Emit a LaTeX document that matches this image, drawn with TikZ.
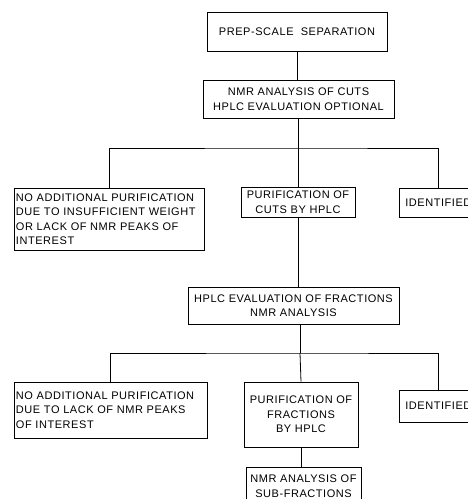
\documentclass[tikz,border=0pt]{standalone}
\usepackage{fontspec}
\setmainfont{Liberation Sans}[LetterSpace=5]
\usetikzlibrary{positioning}

\begin{document}
\begin{tikzpicture}[x=1pt, y=-1pt, line width=0.8pt,
        font=\fontsize{11}{14.5}\selectfont,
        b/.style={rectangle, draw, align=center, inner sep=2pt},
        bl/.style={rectangle, draw, align=left, inner xsep=2pt, inner ysep=2pt}]
        \useasboundingbox (0,0) rectangle (468,499);
        % top of the scheme
        \node[b, minimum width=180, minimum height=39] (prep) at (297,31.5) {PREP-SCALE \ SEPARATION};
        \node[b, minimum width=191, minimum height=38] (nmr) at (298.5,99) {NMR ANALYSIS OF CUTS\\HPLC EVALUATION OPTIONAL};
        \coordinate (bar1) at (298,148);
        % first branching
        \node[bl, text width=186, minimum height=62] (none1) at (109,219) {NO ADDITIONAL PURIFICATION\\DUE TO INSUFFICIENT WEIGHT\\OR LACK OF NMR PEAKS OF\\INTEREST};
        \node[b, minimum width=114, minimum height=30] (pur1) at (298,202) {PURIFICATION OF\\CUTS BY HPLC};
        \node[b, anchor=west, minimum width=78, minimum height=29] (id1) at (399,202.5) {IDENTIFIED};
        \node[b, minimum width=211, minimum height=37] (hplc) at (293.5,305.5) {HPLC EVALUATION OF FRACTIONS\\NMR ANALYSIS};
        \coordinate (bar2) at (300,353);
        % second branching
        \node[bl, text width=189, minimum height=56] (none2) at (110.5,410) {NO ADDITIONAL PURIFICATION\\DUE TO LACK OF NMR PEAKS\\OF INTEREST};
        \node[b, minimum width=114, minimum height=65] (pur2) at (301,414.5) {PURIFICATION OF\\FRACTIONS\\BY HPLC};
        \node[b, anchor=west, minimum width=78, minimum height=32] (id2) at (399,406) {IDENTIFIED};
        \node[b, minimum width=115, minimum height=38] (sub) at (303.5,486) {NMR ANALYSIS OF\\SUB-FRACTIONS};
        % connectors
        \draw (prep.south) -- (prep.south |- nmr.north);
        \draw (nmr.south -| bar1) -- (bar1);
        \draw (none1.north) |- (bar1) -| (id1.north);
        \draw (bar1) -- (pur1.north);
        \draw (pur1.south) -- (pur1.south |- hplc.north);
        \draw (hplc.south -| bar2) -- (bar2);
        \draw (none2.north) |- (bar2) -| (id2.north);
        \draw (bar2) -- (pur2.north);
        \draw (pur2.south) -- (pur2.south |- sub.north);
    \end{tikzpicture}
\end{document}
